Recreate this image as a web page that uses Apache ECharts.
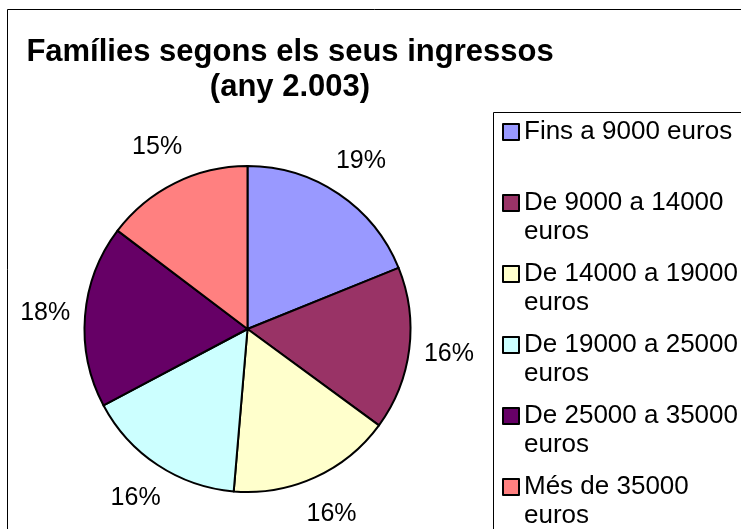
<!DOCTYPE html>
<html>
<head>
  <meta charset="utf-8">
  <title>Famílies segons els seus ingressos</title>
  <script src="https://cdn.jsdelivr.net/npm/echarts@6/dist/echarts.min.js"></script>
  <style>
    body { margin: 0; background: #fff; }
  </style>
</head>
<body>
  <div id="main" style="width: 741px;height:529px;"></div>
  <script type="text/javascript">
    // dades
    var categories = ['Fins a 9000 euros', 'De 9000 a 14000 euros', 'De 14000 a 19000 euros',
      'De 19000 a 25000 euros', 'De 25000 a 35000 euros', 'Més de 35000 euros'];
    // text de la llegenda, partit en línies com a l'original (primera línia buida per alinear el quadret)
    var legendLabels = ['\nFins a 9000 euros\n ', '\nDe 9000 a 14000\neuros', '\nDe 14000 a 19000\neuros',
      '\nDe 19000 a 25000\neuros', '\nDe 25000 a 35000\neuros', '\nMés de 35000\neuros'];
    var values = [18.9, 16.2, 16.3, 15.9, 18.1, 14.7];
    var colors = ['#9999FF', '#993366', '#FFFFCC', '#CCFFFF', '#660066', '#FF8080'];

    var font = "'Liberation Sans', Arial, sans-serif";
    var myChart = echarts.init(document.getElementById('main'));

    var pieData = categories.map(function (name, i) {
      return { name: name, value: values[i], itemStyle: { color: colors[i] } };
    });

    myChart.setOption({
      backgroundColor: '#fff',
      animation: false,
      title: {
        text: 'Famílies segons els seus ingressos\n(any 2.003)',
        left: 285,
        top: 30,
        textAlign: 'center',
        textStyle: { fontFamily: font, fontSize: 31, fontWeight: 'bold', color: '#000', lineHeight: 35 }
      },
      legend: {
        orient: 'vertical',
        left: 502,
        top: 88.5,
        height: 480,
        padding: 0,
        itemGap: -16,
        itemWidth: 16,
        itemHeight: 16,
        selectedMode: false,
        icon: 'rect',
        data: categories,
        formatter: function (name) {
          return legendLabels[categories.indexOf(name)];
        },
        textStyle: { fontFamily: font, fontSize: 26, lineHeight: 29, color: '#000' }
      },
      graphic: [
        // vora del gràfic i de la llegenda
        { type: 'rect', shape: { x: 7.5, y: 9.5, width: 800, height: 600 }, style: { fill: 'none', stroke: '#000', lineWidth: 1 }, silent: true },
        { type: 'rect', shape: { x: 493.5, y: 112.5, width: 300, height: 500 }, style: { fill: 'none', stroke: '#000', lineWidth: 1 }, silent: true }
      ],
      series: [{
        type: 'pie',
        center: [247.5, 329],
        radius: 163,
        startAngle: 90,
        clockwise: true,
        avoidLabelOverlap: false,
        itemStyle: { borderColor: '#000', borderWidth: 2 },
        emphasis: { disabled: true },
        label: {
          show: true,
          position: 'outside',
          distanceToLabelLine: 0,
          fontFamily: font,
          fontSize: 25,
          color: '#000',
          formatter: function (p) { return Math.round(p.value) + '%'; }
        },
        labelLine: { show: false, length: 40, length2: 0 },
        labelLayout: function () {
          return { align: 'center', verticalAlign: 'middle' };
        },
        data: pieData
      }]
    });
  </script>
</body>
</html>
